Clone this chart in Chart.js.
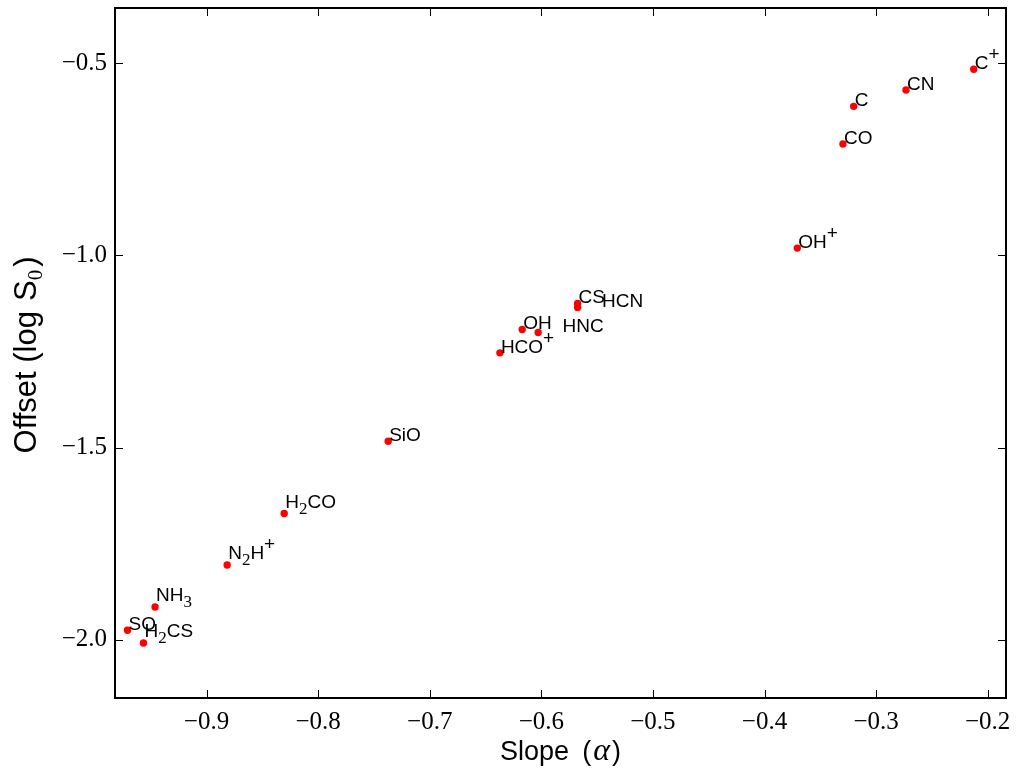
<!DOCTYPE html>
<html>
<head>
<meta charset="utf-8">
<script src="https://cdn.jsdelivr.net/npm/chart.js@4.4.1/dist/chart.umd.min.js"></script>
<style>
  html, body { margin: 0; padding: 0; background: #fff; }
</style>
</head>
<body>
<canvas id="fitChart" width="1016" height="773"></canvas>
<script>
// species names (_x = subscript, ^x = superscript) and fitted parameters
const species = ['C^+', 'CN', 'C', 'CO', 'OH^+', 'CS', 'HCN', 'HNC', 'OH', 'HCO^+',
                 'SiO', 'H_2CO', 'N_2H^+', 'NH_3', 'SO', 'H_2CS'];
const slopes  = [-0.2125, -0.2732, -0.3201, -0.3297, -0.3706, -0.5675, -0.5675, -0.6028,
                 -0.6171, -0.6371, -0.7372, -0.8304, -0.8815, -0.9461, -0.9708, -0.9565];
const offsets = [-0.5156, -0.5695, -0.6120, -0.7100, -0.9810, -1.1250, -1.1354, -1.2005,
                 -1.1927, -1.2536, -1.4836, -1.6719, -1.8057, -1.9151, -1.9758, -2.0089];
const xTicks = [-0.9, -0.8, -0.7, -0.6, -0.5, -0.4, -0.3, -0.2];
const yTicks = [-2.0, -1.5, -1.0, -0.5];

const SANS = '"Liberation Sans", Arial, sans-serif';
const SERIF = '"Liberation Serif", "DejaVu Serif", serif';

// a couple of labels are pushed right so they don't sit on top of each other
const labelNudge = { HCN: 0.021, HNC: 0.021 };

const fmt = v => '\u2212' + Math.abs(v).toFixed(1);

// draw a formula like N_2H^+ starting at (x, y) baseline
function drawFormula(ctx, text, x, y, size) {
  let cx = x;
  // labels with a subscript sit higher so the subscript ends at the point
  const lift = text.includes('_') ? 6 : 0;
  for (let i = 0; i < text.length; i++) {
    let ch = text[i];
    let dy = 0;
    let font = size + 'px ' + SANS;
    if (ch === '_') {
      ch = text[++i];
      dy = 6;
      font = '17px ' + SERIF;
    } else if (ch === '^') {
      ch = text[++i];
      dy = -9;
      font = '19px ' + SANS;
    }
    ctx.font = font;
    ctx.fillText(ch, cx, y - lift + dy);
    cx += ctx.measureText(ch).width;
  }
}

// draw a sequence of [text, font, dy] pieces (a number is a gap), centred on cx
function drawPieces(ctx, pieces, cx, y) {
  const width = p => {
    if (typeof p === 'number') return p;
    ctx.font = p[1];
    return ctx.measureText(p[0]).width;
  };
  let x = cx - pieces.reduce((w, p) => w + width(p), 0) / 2;
  pieces.forEach(p => {
    if (typeof p !== 'number') {
      ctx.font = p[1];
      ctx.fillText(p[0], x, y + (p[2] || 0));
    }
    x += width(p);
  });
}

// frame with inward ticks on all four sides
const framePlugin = {
  id: 'frame',
  beforeDatasetsDraw(chart) {
    const { ctx, chartArea: a, scales } = chart;
    ctx.save();
    ctx.strokeStyle = '#000';
    ctx.lineWidth = 1;
    const len = 8;
    xTicks.forEach(v => {
      const px = Math.round(scales.x.getPixelForValue(v)) + 0.5;
      ctx.beginPath();
      ctx.moveTo(px, a.bottom); ctx.lineTo(px, a.bottom - len);
      ctx.moveTo(px, a.top); ctx.lineTo(px, a.top + len);
      ctx.stroke();
    });
    yTicks.forEach(v => {
      const py = Math.round(scales.y.getPixelForValue(v)) + 0.5;
      ctx.beginPath();
      ctx.moveTo(a.left, py); ctx.lineTo(a.left + len, py);
      ctx.moveTo(a.right, py); ctx.lineTo(a.right - len, py);
      ctx.stroke();
    });
    ctx.lineWidth = 2;
    ctx.strokeRect(a.left, a.top, a.right - a.left, a.bottom - a.top);
    ctx.restore();
  }
};

// species names next to each point
const labelPlugin = {
  id: 'speciesLabels',
  afterDatasetsDraw(chart) {
    const { ctx, scales } = chart;
    ctx.save();
    ctx.fillStyle = '#000';
    ctx.textBaseline = 'alphabetic';
    ctx.textAlign = 'left';
    species.forEach((name, i) => {
      const plain = name.replace(/[_^]/g, '');
      const px = scales.x.getPixelForValue(slopes[i] + (labelNudge[plain] || 0));
      const py = scales.y.getPixelForValue(offsets[i]);
      drawFormula(ctx, name, px + 1, py, 19);
    });
    ctx.restore();
  }
};

// axis titles with a serif alpha and subscript zero
const titlePlugin = {
  id: 'axisTitles',
  afterDraw(chart) {
    const { ctx, chartArea: a } = chart;
    ctx.save();
    ctx.fillStyle = '#000';
    ctx.textAlign = 'left';
    ctx.textBaseline = 'alphabetic';
    const cx = (a.left + a.right) / 2;
    drawPieces(ctx, [
      ['Slope', '27px ' + SANS],
      13,
      ['(', '27px ' + SANS],
      2,
      ['\u03B1', 'italic 32px ' + SERIF],
      2,
      [')', '27px ' + SANS]
    ], cx, 760);
    ctx.translate(36, (a.top + a.bottom) / 2 + 2);
    ctx.rotate(-Math.PI / 2);
    drawPieces(ctx, [
      ['Offset (log', '31px ' + SANS],
      10,
      ['S', '31px ' + SANS],
      ['0', '21px ' + SERIF, 6],
      3,
      [')', '31px ' + SANS]
    ], 0, 0);
    ctx.restore();
  }
};

const ctx = document.getElementById('fitChart').getContext('2d');
new Chart(ctx, {
  type: 'scatter',
  data: {
    datasets: [{
      data: slopes.map((s, i) => ({ x: s, y: offsets[i] })),
      backgroundColor: '#ff0000',
      borderWidth: 0,
      pointRadius: 3.7,
      pointHoverRadius: 3.7
    }]
  },
  options: {
    responsive: false,
    animation: false,
    devicePixelRatio: 1,
    layout: { padding: { top: 8, right: 10, left: 0, bottom: 0 } },
    plugins: { legend: { display: false }, tooltip: { enabled: false } },
    scales: {
      x: {
        type: 'linear',
        min: -0.982,
        max: -0.1836,
        grid: { display: false, drawTicks: false },
        border: { display: false },
        afterBuildTicks: s => { s.ticks = xTicks.map(v => ({ value: v })); },
        afterFit: s => { s.height = 75; s.paddingLeft = 0; s.paddingRight = 0; },
        ticks: {
          padding: 9,
          maxRotation: 0,
          autoSkip: false,
          color: '#000',
          font: { family: SERIF, size: 25 },
          callback: v => fmt(v)
        }
      },
      y: {
        type: 'linear',
        min: -2.152,
        max: -0.356,
        grid: { display: false, drawTicks: false },
        border: { display: false },
        afterBuildTicks: s => { s.ticks = yTicks.map(v => ({ value: v })); },
        afterFit: s => { s.width = 115; s.paddingTop = 0; s.paddingBottom = 0; },
        ticks: {
          padding: 8,
          autoSkip: false,
          color: '#000',
          font: { family: SERIF, size: 25 },
          callback: v => fmt(v)
        }
      }
    }
  },
  plugins: [framePlugin, labelPlugin, titlePlugin]
});
</script>
</body>
</html>
